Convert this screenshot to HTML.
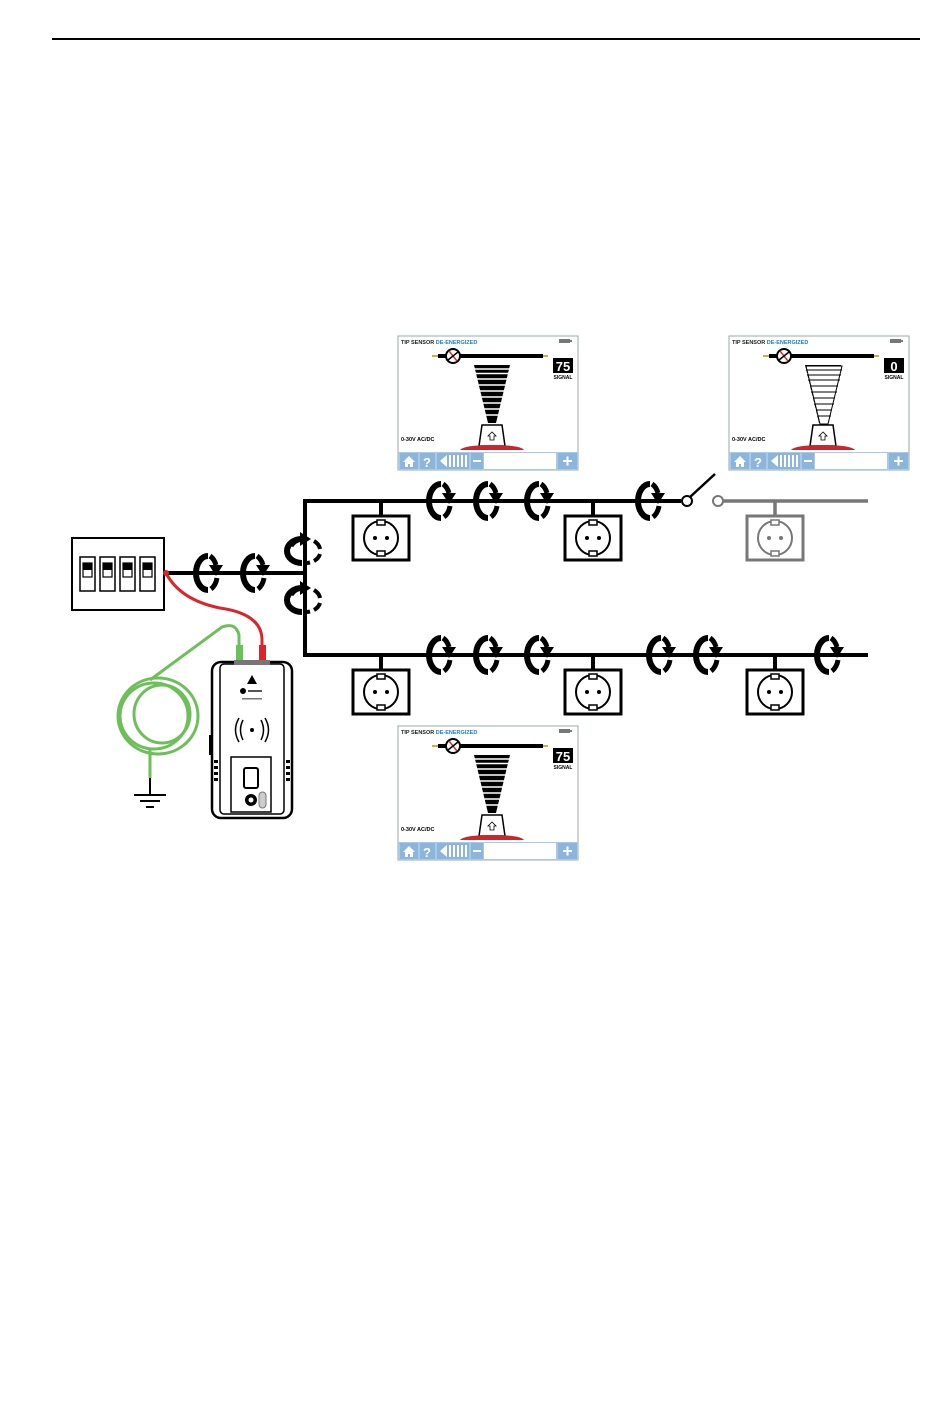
<!DOCTYPE html>
<html><head><meta charset="utf-8"><style>
html,body{margin:0;padding:0;background:#fff}
svg{display:block}
text{font-family:"Liberation Sans",sans-serif;font-weight:bold}
</style></head><body>
<svg width="950" height="1414" viewBox="0 0 950 1414" xmlns="http://www.w3.org/2000/svg">
<defs>
<g id="coil">
<path d="M3 -17 A12 17 0 0 0 3 17" fill="none" stroke="#000" stroke-width="6"/>
<path d="M5 -17 A12 17 0 0 1 11 -8" fill="none" stroke="#000" stroke-width="5"/>
<polygon points="4,-8 18,-8 11,3" fill="#000"/>
<path d="M12 5 A12 17 0 0 1 6 16" fill="none" stroke="#000" stroke-width="5"/>
</g>
<g id="vcoil">
<path d="M-3 -12 A15 12 0 0 0 -3 12" fill="none" stroke="#000" stroke-width="6"/>
<path d="M-14 -5 A15 12 0 0 1 -4 -12" fill="none" stroke="#000" stroke-width="5"/>
<polygon points="-5,-19 -5,-5 6,-12" fill="#000"/>
<path d="M9 -10 A15 12 0 0 1 15 -2" fill="none" stroke="#000" stroke-width="4"/>
<path d="M15 3 A15 12 0 0 1 9 10" fill="none" stroke="#000" stroke-width="4"/>
<path d="M5 11.5 A15 12 0 0 1 1 12" fill="none" stroke="#000" stroke-width="4"/>
</g>
<g id="sock">
<rect x="0" y="0" width="56" height="44" fill="#fff" stroke-width="3"/>
<circle cx="28" cy="22" r="17" fill="none" stroke-width="2"/>
<rect x="24" y="4" width="8" height="5" fill="#fff" stroke-width="1.5"/>
<rect x="24" y="35" width="8" height="5" fill="#fff" stroke-width="1.5"/>
<circle cx="22" cy="22" r="2" stroke="none"/>
<circle cx="34" cy="22" r="2" stroke="none"/>
</g>
<g id="screen">
<rect x="0" y="0" width="180" height="134" fill="#fff" stroke="#9aa" stroke-width="1"/>
<text x="3" y="8" font-size="5.5" fill="#222">TIP SENSOR <tspan fill="#1a7fc4">DE-ENERGIZED</tspan></text>
<rect x="161" y="3" width="11" height="4" fill="#777"/><rect x="172" y="4" width="2" height="2" fill="#777"/>
<line x1="40" y1="20" x2="145" y2="20" stroke="#000" stroke-width="4"/>
<line x1="34" y1="20" x2="40" y2="20" stroke="#c9b040" stroke-width="2"/>
<line x1="145" y1="20" x2="150" y2="20" stroke="#c9b040" stroke-width="2"/>
<circle cx="55" cy="20" r="7" fill="#fff" stroke="#000" stroke-width="2"/>
<line x1="51" y1="15" x2="59" y2="25" stroke="#c33" stroke-width="1.5"/>
<line x1="50" y1="24" x2="60" y2="16" stroke="#000" stroke-width="1.5"/>
<polygon points="76,29 112,29 98,87 90,87" fill="#000"/>
<g stroke="#fff" stroke-width="1.6">
<line x1="74" y1="33" x2="114" y2="33"/><line x1="74" y1="37.5" x2="114" y2="37.5"/>
<line x1="74" y1="43" x2="114" y2="43"/><line x1="74" y1="49" x2="114" y2="49"/>
<line x1="74" y1="55" x2="114" y2="55"/><line x1="74" y1="61" x2="114" y2="61"/>
<line x1="74" y1="67" x2="114" y2="67"/><line x1="74" y1="73" x2="114" y2="73"/>
<line x1="74" y1="79" x2="114" y2="79"/>
</g>
<polygon points="84,89 104,89 107,110 81,110" fill="#fff" stroke="#000" stroke-width="1.5"/>
<path d="M94 96 l-4 4 h2 v4 h4 v-4 h2 z" fill="#fff" stroke="#000" stroke-width="0.8"/>
<path d="M62 114 Q66 109 94 109 Q122 109 126 114 Z" fill="#c8282d"/>
<text x="3" y="105" font-size="5.5" fill="#000">0-30V AC/DC</text>
<rect x="0" y="116" width="180" height="18" fill="#a9c9e6"/>
<rect x="86" y="117" width="72" height="16" fill="#fff"/>
<rect x="160" y="117" width="19" height="16" fill="#8cb5dc"/>
<rect x="2" y="117" width="18" height="16" fill="#8cb5dc"/><rect x="22" y="117" width="15" height="16" fill="#8cb5dc"/>
<rect x="39" y="117" width="32" height="16" fill="#8cb5dc"/><rect x="73" y="117" width="12" height="16" fill="#8cb5dc"/>
<path d="M5 126 l6 -6 l6 6 h-2 v5 h-3 v-3 h-2 v3 h-3 v-5 z" fill="#fff"/>
<text x="25" y="131" font-size="13" fill="#fff">?</text>
<polygon points="42,125 49,119 49,131" fill="#fff"/>
<g fill="#fff"><rect x="51" y="119" width="2" height="12"/><rect x="55" y="119" width="2" height="12"/><rect x="59" y="119" width="2" height="12"/><rect x="63" y="119" width="2" height="12"/><rect x="67" y="119" width="2" height="12"/></g>
<rect x="75" y="124" width="8" height="2" fill="#fff"/>
<rect x="165" y="124" width="9" height="2" fill="#fff"/><rect x="168.5" y="120.5" width="2" height="9" fill="#fff"/>
</g>
</defs>

<line x1="52" y1="39" x2="920" y2="39" stroke="#000" stroke-width="2"/>

<use href="#screen" x="398" y="336"/>
<g transform="translate(553,358)"><rect x="0" y="0" width="20" height="15" fill="#000"/><text x="10" y="13" font-size="13" fill="#fff" text-anchor="middle">75</text><text x="10" y="21" font-size="5" fill="#000" text-anchor="middle">SIGNAL</text></g>
<use href="#screen" x="729" y="336"/>
<g transform="translate(884,358)"><rect x="0" y="0" width="20" height="15" fill="#000"/><text x="10" y="13" font-size="13" fill="#fff" text-anchor="middle">0</text><text x="10" y="21" font-size="5" fill="#000" text-anchor="middle">SIGNAL</text></g>
<polygon points="806,366 842,366 828,424 820,424" fill="#fff" stroke="#000" stroke-width="1"/>
<g stroke="#000" stroke-width="1"><line x1="806" y1="370" x2="842" y2="370"/><line x1="807" y1="375" x2="841" y2="375"/><line x1="808" y1="380" x2="840" y2="380"/><line x1="810" y1="386" x2="838" y2="386"/><line x1="811" y1="392" x2="837" y2="392"/><line x1="813" y1="398" x2="835" y2="398"/><line x1="814" y1="404" x2="834" y2="404"/><line x1="816" y1="410" x2="832" y2="410"/><line x1="817" y1="416" x2="831" y2="416"/></g>
<use href="#screen" x="398" y="726"/>
<g transform="translate(553,748)"><rect x="0" y="0" width="20" height="15" fill="#000"/><text x="10" y="13" font-size="13" fill="#fff" text-anchor="middle">75</text><text x="10" y="21" font-size="5" fill="#000" text-anchor="middle">SIGNAL</text></g>

<g stroke="#000" stroke-width="4" fill="none">
<line x1="165" y1="573" x2="303" y2="573"/>
<polyline points="681,501 305,501 305,655 868,655"/>
<line x1="381" y1="501" x2="381" y2="516"/><line x1="593" y1="501" x2="593" y2="516"/>
<line x1="381" y1="655" x2="381" y2="670"/><line x1="593" y1="655" x2="593" y2="670"/><line x1="775" y1="655" x2="775" y2="670"/>
</g>
<circle cx="687" cy="501" r="5" fill="#fff" stroke="#000" stroke-width="2"/>
<line x1="690" y1="497" x2="715" y2="474" stroke="#000" stroke-width="2.5"/>
<circle cx="718" cy="501" r="5" fill="#fff" stroke="#777" stroke-width="2"/>
<line x1="723" y1="501" x2="868" y2="501" stroke="#777" stroke-width="3.5"/>
<line x1="775" y1="501" x2="775" y2="516" stroke="#777" stroke-width="3.5"/>

<g fill="#000" stroke="#000"><use href="#sock" x="353" y="516"/><use href="#sock" x="565" y="516"/>
<use href="#sock" x="353" y="670"/><use href="#sock" x="565" y="670"/><use href="#sock" x="747" y="670"/></g>
<g fill="#777" stroke="#777"><use href="#sock" x="747" y="516"/></g>

<use href="#coil" x="205" y="573"/><use href="#coil" x="252" y="573"/>
<use href="#coil" x="438" y="501"/><use href="#coil" x="485" y="501"/><use href="#coil" x="536" y="501"/><use href="#coil" x="647" y="501"/>
<use href="#coil" x="438" y="655"/><use href="#coil" x="485" y="655"/><use href="#coil" x="536" y="655"/><use href="#coil" x="658" y="655"/><use href="#coil" x="705" y="655"/><use href="#coil" x="826" y="655"/>
<use href="#vcoil" x="305" y="551"/>
<use href="#vcoil" x="305" y="600"/>

<rect x="72" y="538" width="92" height="72" fill="#fff" stroke="#000" stroke-width="2"/>
<g fill="#fff" stroke="#000" stroke-width="1.5">
<rect x="80" y="557" width="15" height="34"/><rect x="100" y="557" width="15" height="34"/><rect x="120" y="557" width="15" height="34"/><rect x="140" y="557" width="15" height="34"/>
</g>
<g fill="#000"><rect x="83" y="563" width="9" height="7"/><rect x="103" y="563" width="9" height="7"/><rect x="123" y="563" width="9" height="7"/><rect x="143" y="563" width="9" height="7"/></g>
<g fill="none" stroke="#000" stroke-width="1.2"><rect x="83" y="563" width="9" height="14"/><rect x="103" y="563" width="9" height="14"/><rect x="123" y="563" width="9" height="14"/><rect x="143" y="563" width="9" height="14"/></g>

<path d="M166 573 Q180 600 220 608 Q262 614 262 640 L262 660" fill="none" stroke="#d8272b" stroke-width="3"/>
<circle cx="166" cy="573" r="3" fill="#d8272b"/>
<rect x="259" y="645" width="7" height="17" fill="#d8272b"/>
<path d="M239 660 L239 635 Q236 622 222 627 L150 680" fill="none" stroke="#6dbf5a" stroke-width="3"/>
<rect x="236" y="645" width="7" height="17" fill="#6dbf5a"/>
<g fill="none" stroke="#6dbf5a" stroke-width="3">
<ellipse cx="158" cy="716" rx="40" ry="38"/><ellipse cx="154" cy="716" rx="34" ry="33"/><ellipse cx="162" cy="714" rx="28" ry="29"/>
</g>
<path d="M150 750 L150 778" stroke="#6dbf5a" stroke-width="3"/>
<g stroke="#000" stroke-width="2"><line x1="150" y1="778" x2="150" y2="794"/><line x1="134" y1="795" x2="166" y2="795"/><line x1="140" y1="801" x2="160" y2="801"/><line x1="146" y1="807" x2="154" y2="807"/></g>

<rect x="212" y="662" width="80" height="156" rx="9" fill="#fff" stroke="#000" stroke-width="2.5"/>
<rect x="220" y="664" width="64" height="150" rx="4" fill="none" stroke="#000" stroke-width="1.5"/>
<rect x="234" y="660" width="36" height="5" fill="#777"/>
<polygon points="252,675 247,684 257,684" fill="#000"/>
<circle cx="243" cy="691" r="3" fill="#000"/><rect x="248" y="690" width="14" height="2" fill="#555"/>
<rect x="242" y="698" width="20" height="1.5" fill="#777"/>
<g fill="none" stroke="#000" stroke-width="1.5"><path d="M243 720 q-5 10 0 20"/><path d="M239 718 q-7 12 0 24"/><path d="M261 720 q5 10 0 20"/><path d="M265 718 q7 12 0 24"/></g>
<circle cx="252" cy="730" r="2" fill="#000"/>
<rect x="231" y="757" width="40" height="55" fill="#fff" stroke="#000" stroke-width="1.5"/>
<rect x="244" y="768" width="14" height="20" rx="2" fill="#fff" stroke="#000" stroke-width="2"/>
<circle cx="251" cy="800" r="6" fill="#000"/><circle cx="251" cy="800" r="2.5" fill="#fff"/>
<rect x="259" y="792" width="7" height="16" rx="3.5" fill="#ccc" stroke="#777"/>
<rect x="209" y="735" width="4" height="20" fill="#000"/>
<g fill="#000"><rect x="286" y="760" width="4" height="3"/><rect x="286" y="766" width="4" height="3"/><rect x="286" y="772" width="4" height="3"/><rect x="286" y="778" width="4" height="3"/><rect x="214" y="760" width="4" height="3"/><rect x="214" y="766" width="4" height="3"/><rect x="214" y="772" width="4" height="3"/><rect x="214" y="778" width="4" height="3"/></g>
</svg>
</body></html>
